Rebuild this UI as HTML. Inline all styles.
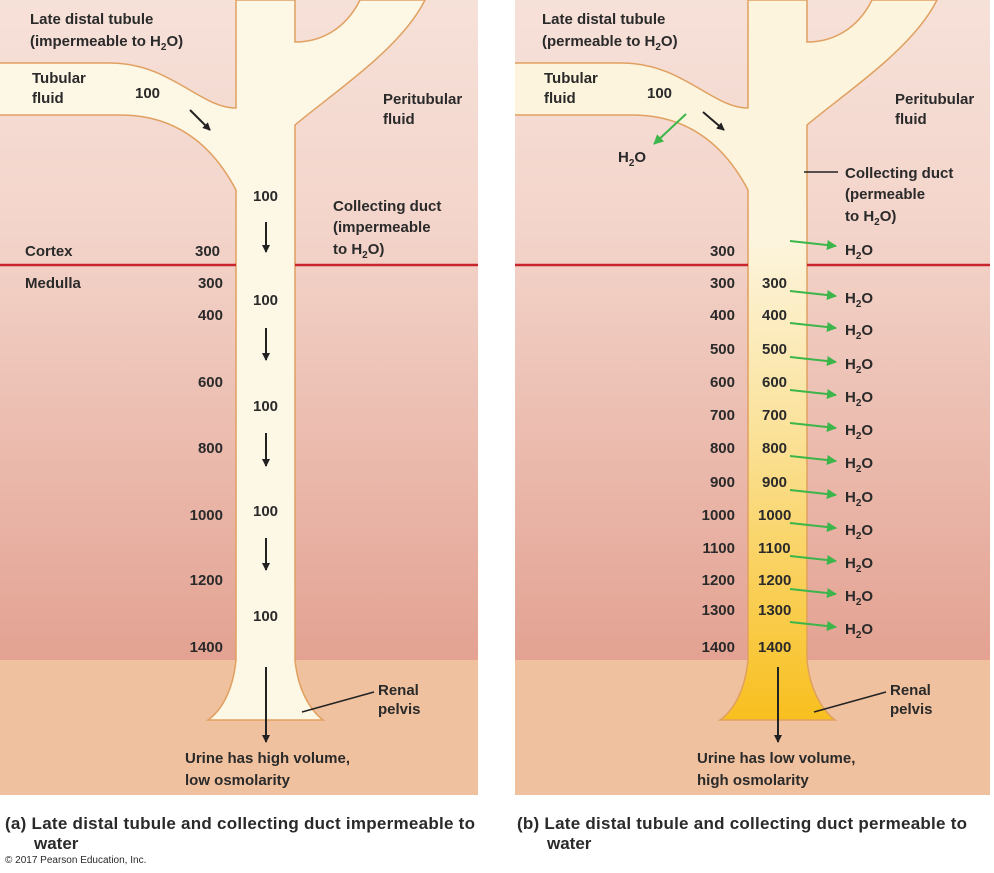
<!DOCTYPE html>
<html><head><meta charset="utf-8"><style>
html,body{margin:0;padding:0;background:#fff;}
svg{display:block;}
text{font-family:"Liberation Sans",Arial,sans-serif;font-weight:bold;font-size:15px;fill:#2a2a2a;}
.s{font-size:10px;}
.c{font-size:17px;}
</style></head><body>
<svg width="994" height="873" viewBox="0 0 994 873" xmlns="http://www.w3.org/2000/svg">
<defs>
<linearGradient id="bg" x1="0" y1="0" x2="0" y2="1">
<stop offset="0" stop-color="#f6e1d9"/><stop offset="0.35" stop-color="#f3d4ca"/><stop offset="1" stop-color="#e3a292"/>
</linearGradient>
<linearGradient id="yl" gradientUnits="userSpaceOnUse" x1="0" y1="240" x2="0" y2="720">
<stop offset="0" stop-color="#fcf4dd"/><stop offset="0.4" stop-color="#fbe29a"/><stop offset="1" stop-color="#f8bf1e"/>
</linearGradient>
<clipPath id="ca"><rect x="0" y="0" width="478" height="795"/></clipPath>
<clipPath id="cb"><rect x="3" y="0" width="478" height="795"/></clipPath>
<marker id="ak" markerWidth="8" markerHeight="8" refX="7" refY="4" orient="auto" markerUnits="userSpaceOnUse"><path d="M0,0 L8,4 L0,8 z" fill="#222"/></marker>
<marker id="ag" markerWidth="10" markerHeight="10" refX="9" refY="5" orient="auto" markerUnits="userSpaceOnUse"><path d="M0,0 L10,5 L0,10 z" fill="#3cb54a"/></marker>
<g id="tube">
<path d="M-10,63 L110,63 C170,63 200,108 236,108 L236,0 L295,0 L295,42 C320,42 345,30 360,0 L425,0 C400,50 330,95 295,125 L295,660 C298,690 310,710 323,720 L208,720 C222,710 233,690 236,660 L236,190 C215,150 180,115 120,115 L-10,115 Z" stroke="#e0a060" stroke-width="1.5"/>
</g>
</defs>
<!-- panel a -->
<rect x="0" y="0" width="478" height="660" fill="url(#bg)"/>
<rect x="0" y="660" width="478" height="135" fill="#f0c19f"/>
<g clip-path="url(#ca)"><use href="#tube" fill="#fdf7e6"/></g>
<line x1="0" y1="265" x2="236" y2="265" stroke="#c8252c" stroke-width="2.5"/>
<line x1="295" y1="265" x2="478" y2="265" stroke="#c8252c" stroke-width="2.5"/>
<!-- panel b -->
<rect x="515" y="0" width="475" height="660" fill="url(#bg)"/>
<rect x="515" y="660" width="475" height="135" fill="#f0c19f"/>
<g transform="translate(512,0)" clip-path="url(#cb)"><use href="#tube" fill="url(#yl)"/></g>
<line x1="515" y1="265" x2="748" y2="265" stroke="#c8252c" stroke-width="2.5"/>
<line x1="807" y1="265" x2="990" y2="265" stroke="#c8252c" stroke-width="2.5"/>

<!-- panel a text -->
<text x="30" y="24">Late distal tubule</text>
<text x="30" y="46">(impermeable to H<tspan dy="4" font-size="10">2</tspan><tspan dy="-4">O)</tspan></text>
<text x="32" y="83">Tubular</text><text x="32" y="103">fluid</text>
<text x="135" y="98">100</text>
<line x1="190" y1="110" x2="210" y2="130" stroke="#222" stroke-width="2" marker-end="url(#ak)"/>
<text x="383" y="104">Peritubular</text><text x="383" y="124">fluid</text>
<text x="253" y="201">100</text>
<line x1="266" y1="222" x2="266" y2="252" stroke="#222" stroke-width="2" marker-end="url(#ak)"/>
<text x="333" y="211">Collecting duct</text>
<text x="333" y="232">(impermeable</text>
<text x="333" y="254">to H<tspan dy="4" font-size="10">2</tspan><tspan dy="-4">O)</tspan></text>
<text x="25" y="256">Cortex</text><text x="195" y="256">300</text>
<text x="25" y="288">Medulla</text>
<g text-anchor="end">
<text x="223" y="288">300</text><text x="223" y="320">400</text><text x="223" y="387">600</text><text x="223" y="453">800</text>
<text x="223" y="520">1000</text><text x="223" y="585">1200</text><text x="223" y="652">1400</text>
</g>
<text x="253" y="305">100</text><text x="253" y="411">100</text><text x="253" y="516">100</text><text x="253" y="621">100</text>
<line x1="266" y1="328" x2="266" y2="360" stroke="#222" stroke-width="2" marker-end="url(#ak)"/>
<line x1="266" y1="433" x2="266" y2="466" stroke="#222" stroke-width="2" marker-end="url(#ak)"/>
<line x1="266" y1="538" x2="266" y2="570" stroke="#222" stroke-width="2" marker-end="url(#ak)"/>
<line x1="266" y1="667" x2="266" y2="742" stroke="#222" stroke-width="2" marker-end="url(#ak)"/>
<text x="378" y="695">Renal</text><text x="378" y="714">pelvis</text>
<line x1="302" y1="712" x2="374" y2="692" stroke="#222" stroke-width="1.5"/>
<text x="185" y="763">Urine has high volume,</text>
<text x="185" y="785">low osmolarity</text>
<text x="5" y="829" class="c" textLength="470">(a)  Late distal tubule and collecting duct impermeable to</text>
<text x="34" y="849" class="c">water</text>
<text x="5" y="863" class="s" style="font-weight:normal">© 2017 Pearson Education, Inc.</text>

<!-- panel b text -->
<text x="542" y="24">Late distal tubule</text>
<text x="542" y="46">(permeable to H<tspan dy="4" font-size="10">2</tspan><tspan dy="-4">O)</tspan></text>
<text x="544" y="83">Tubular</text><text x="544" y="103">fluid</text>
<text x="647" y="98">100</text>
<line x1="703" y1="112" x2="724" y2="130" stroke="#222" stroke-width="2" marker-end="url(#ak)"/>
<line x1="686" y1="114" x2="654" y2="144" stroke="#3cb54a" stroke-width="2" marker-end="url(#ag)"/>
<text x="618" y="162">H<tspan dy="4" font-size="10">2</tspan><tspan dy="-4">O</tspan></text>
<text x="895" y="104">Peritubular</text><text x="895" y="124">fluid</text>
<line x1="804" y1="172" x2="838" y2="172" stroke="#222" stroke-width="1.5"/>
<text x="845" y="178">Collecting duct</text>
<text x="845" y="199">(permeable</text>
<text x="845" y="221">to H<tspan dy="4" font-size="10">2</tspan><tspan dy="-4">O)</tspan></text>
<g text-anchor="end">
<text x="735" y="256">300</text>
<text x="735" y="288">300</text><text x="735" y="320">400</text><text x="735" y="354">500</text><text x="735" y="387">600</text>
<text x="735" y="420">700</text><text x="735" y="453">800</text><text x="735" y="487">900</text><text x="735" y="520">1000</text>
<text x="735" y="553">1100</text><text x="735" y="585">1200</text><text x="735" y="615">1300</text><text x="735" y="652">1400</text>
</g>
<g>
<text x="762" y="288">300</text><text x="762" y="320">400</text><text x="762" y="354">500</text><text x="762" y="387">600</text>
<text x="762" y="420">700</text><text x="762" y="453">800</text><text x="762" y="487">900</text><text x="758" y="520">1000</text>
<text x="758" y="553">1100</text><text x="758" y="585">1200</text><text x="758" y="615">1300</text><text x="758" y="652">1400</text>
</g>
<g stroke="#3cb54a" stroke-width="2" marker-end="url(#ag)">
<line x1="790" y1="241" x2="836" y2="246"/>
<line x1="790" y1="291" x2="836" y2="296"/>
<line x1="790" y1="323" x2="836" y2="328"/>
<line x1="790" y1="357" x2="836" y2="362"/>
<line x1="790" y1="390" x2="836" y2="395"/>
<line x1="790" y1="423" x2="836" y2="428"/>
<line x1="790" y1="456" x2="836" y2="461"/>
<line x1="790" y1="490" x2="836" y2="495"/>
<line x1="790" y1="523" x2="836" y2="528"/>
<line x1="790" y1="556" x2="836" y2="561"/>
<line x1="790" y1="589" x2="836" y2="594"/>
<line x1="790" y1="622" x2="836" y2="627"/>
</g>
<g>
<text x="845" y="255">H<tspan dy="4" font-size="10">2</tspan><tspan dy="-4">O</tspan></text>
<text x="845" y="303">H<tspan dy="4" font-size="10">2</tspan><tspan dy="-4">O</tspan></text>
<text x="845" y="335">H<tspan dy="4" font-size="10">2</tspan><tspan dy="-4">O</tspan></text>
<text x="845" y="369">H<tspan dy="4" font-size="10">2</tspan><tspan dy="-4">O</tspan></text>
<text x="845" y="402">H<tspan dy="4" font-size="10">2</tspan><tspan dy="-4">O</tspan></text>
<text x="845" y="435">H<tspan dy="4" font-size="10">2</tspan><tspan dy="-4">O</tspan></text>
<text x="845" y="468">H<tspan dy="4" font-size="10">2</tspan><tspan dy="-4">O</tspan></text>
<text x="845" y="502">H<tspan dy="4" font-size="10">2</tspan><tspan dy="-4">O</tspan></text>
<text x="845" y="535">H<tspan dy="4" font-size="10">2</tspan><tspan dy="-4">O</tspan></text>
<text x="845" y="568">H<tspan dy="4" font-size="10">2</tspan><tspan dy="-4">O</tspan></text>
<text x="845" y="601">H<tspan dy="4" font-size="10">2</tspan><tspan dy="-4">O</tspan></text>
<text x="845" y="634">H<tspan dy="4" font-size="10">2</tspan><tspan dy="-4">O</tspan></text>
</g>
<line x1="778" y1="667" x2="778" y2="742" stroke="#222" stroke-width="2" marker-end="url(#ak)"/>
<text x="890" y="695">Renal</text><text x="890" y="714">pelvis</text>
<line x1="814" y1="712" x2="886" y2="692" stroke="#222" stroke-width="1.5"/>
<text x="697" y="763">Urine has low volume,</text>
<text x="697" y="785">high osmolarity</text>
<text x="517" y="829" class="c" textLength="450">(b)  Late distal tubule and collecting duct permeable to</text>
<text x="547" y="849" class="c">water</text>
</svg>
</body></html>
